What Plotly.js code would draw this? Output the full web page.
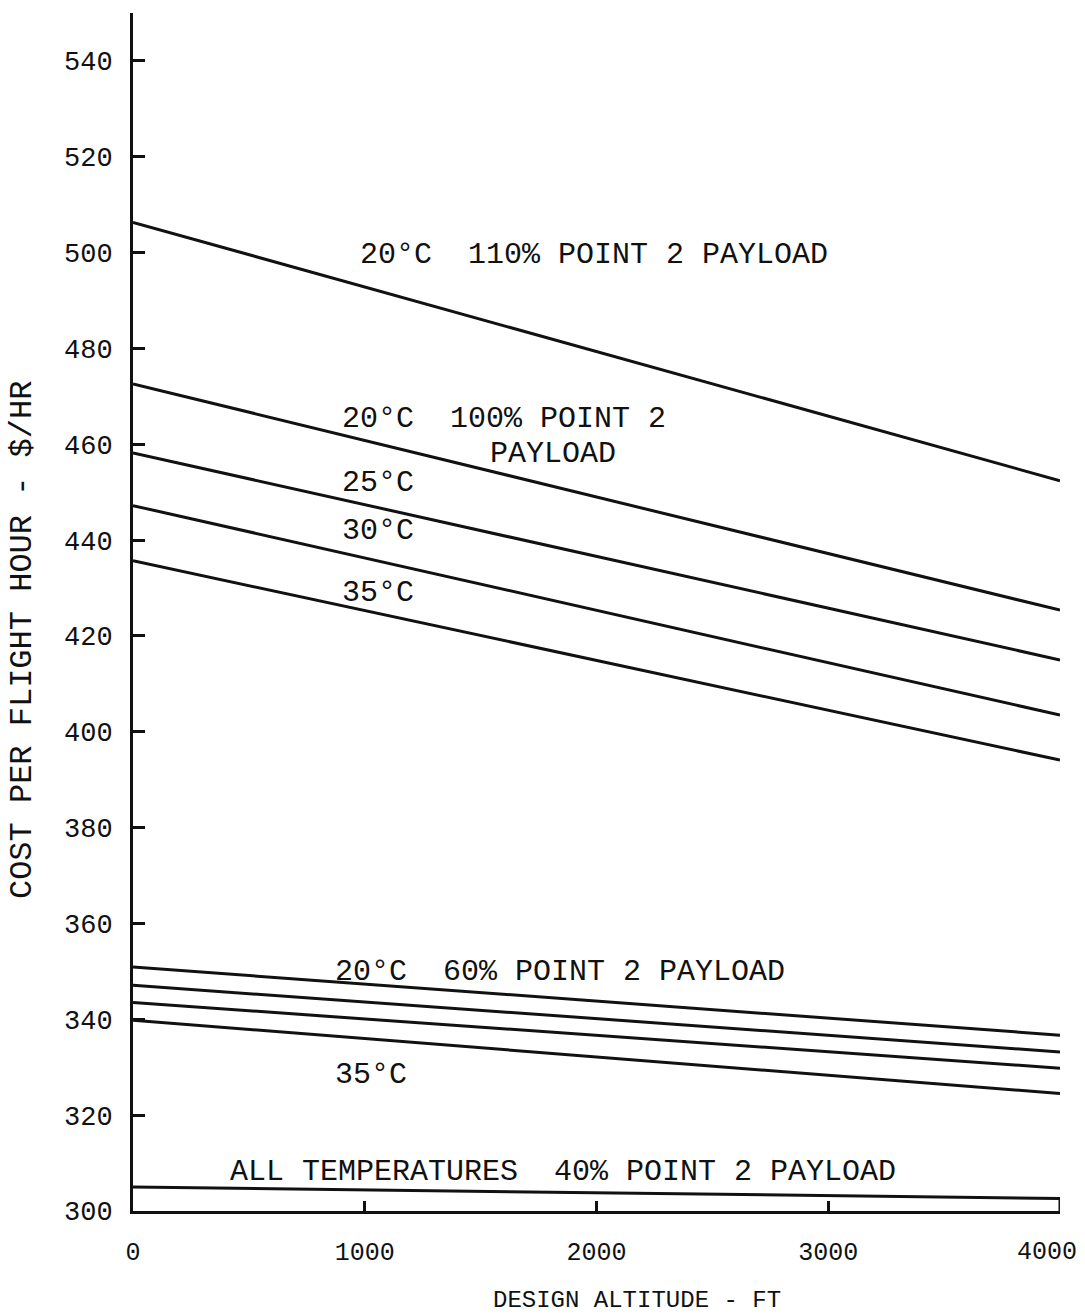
<!DOCTYPE html>
<html>
<head>
<meta charset="utf-8">
<script src="https://cdn.plot.ly/plotly-3.0.1.min.js"></script>
<style>html,body{margin:0;padding:0;background:#fff}#chart{width:1085px;height:1315px}</style>
</head>
<body>
<div id="chart"></div>
<script>
// Design altitude (ft)
var altitude = [0, 4000];
// Cost per flight hour ($/HR)
var p110_20C = [506.3, 452.4];
var p100_20C = [472.6, 425.4];
var p100_25C = [458.2, 415.0];
var p100_30C = [447.2, 403.5];
var p100_35C = [435.7, 394.1];
var p60_20C = [350.9, 336.7];
var p60_25C = [347.1, 333.2];
var p60_30C = [343.5, 329.8];
var p60_35C = [339.8, 324.5];
var altitude40 = [0, 4000, 4000];
var p40_all = [305.0, 302.6, 300.0];

var yTicks = [300, 320, 340, 360, 380, 400, 420, 440, 460, 480, 500, 520, 540];
var xTicks = [0, 1000, 2000, 3000, 4000];
var xTickText = ['0', '1000', '2000', '3000', ''];
var lastXTick = '4000';

var xTitle = 'DESIGN ALTITUDE - FT';
var yTitle = 'COST PER FLIGHT HOUR - $/HR';

var labels = [
  {text: '20°C\u00a0\u00a0110% POINT 2 PAYLOAD', x: 973, y: 499.6},
  {text: '20°C\u00a0\u00a0100% POINT 2', x: 895, y: 465.3},
  {text: 'PAYLOAD', x: 1530, y: 457.9},
  {text: '25°C', x: 895, y: 452.0},
  {text: '30°C', x: 895, y: 442.0},
  {text: '35°C', x: 895, y: 428.9},
  {text: '20°C\u00a0\u00a060% POINT 2 PAYLOAD', x: 865, y: 349.8},
  {text: '35°C', x: 865, y: 328.4},
  {text: 'ALL TEMPERATURES\u00a0\u00a040% POINT 2 PAYLOAD', x: 412, y: 308.1}
];

var FONT = '"Liberation Mono", "Courier New", monospace';
var INK = '#111';

function line(x, y, name) {
  return {x: x, y: y, name: name, type: 'scatter', mode: 'lines',
          line: {color: INK, width: 3}, hoverinfo: 'skip'};
}

var traces = [
  line(altitude, p110_20C, '20°C 110%'),
  line(altitude, p100_20C, '20°C 100%'),
  line(altitude, p100_25C, '25°C 100%'),
  line(altitude, p100_30C, '30°C 100%'),
  line(altitude, p100_35C, '35°C 100%'),
  line(altitude, p60_20C, '20°C 60%'),
  line(altitude, p60_25C, '25°C 60%'),
  line(altitude, p60_30C, '30°C 60%'),
  line(altitude, p60_35C, '35°C 60%'),
  line(altitude40, p40_all, 'All 40%')
];

var annotations = labels.map(function (d) {
  return {text: d.text, x: d.x, y: d.y, xref: 'x', yref: 'y',
          xanchor: 'left', yanchor: 'middle', showarrow: false,
          font: {family: FONT, size: 30, color: INK}};
});
// last x tick label, kept inside the page edge
annotations.push({text: lastXTick, x: 4000, y: -0.0345, xref: 'x', yref: 'paper',
  xanchor: 'right', yanchor: 'middle', xshift: 19, showarrow: false,
  font: {family: FONT, size: 25, color: INK}});
// axis titles
annotations.push({text: xTitle, x: 0.5437, y: -0.0743, xref: 'paper', yref: 'paper',
  xanchor: 'center', yanchor: 'middle', showarrow: false,
  font: {family: FONT, size: 24, color: INK}});
annotations.push({text: yTitle, x: -0.1197, y: 0.4766, xref: 'paper', yref: 'paper',
  xanchor: 'center', yanchor: 'middle', textangle: -90, showarrow: false,
  font: {family: FONT, size: 32, color: INK}});

var layout = {
  width: 1085, height: 1315,
  margin: {l: 133, r: 25, t: 13, b: 104},
  paper_bgcolor: '#fff', plot_bgcolor: '#fff',
  showlegend: false,
  font: {family: FONT, color: INK},
  xaxis: {
    range: [0, 4000], tickvals: xTicks, ticktext: xTickText,
    ticks: 'inside', ticklen: 10, tickwidth: 3, tickcolor: INK,
    showline: true, linewidth: 3, linecolor: INK,
    showgrid: false, zeroline: false,
    tickfont: {family: FONT, size: 25, color: INK},
    ticklabelstandoff: 16
  },
  yaxis: {
    range: [300, 550], tickvals: yTicks, ticktext: yTicks.map(String),
    ticks: 'inside', ticklen: 12, tickwidth: 3, tickcolor: INK,
    showline: true, linewidth: 3, linecolor: INK,
    showgrid: false, zeroline: false,
    tickfont: {family: FONT, size: 27, color: INK},
    ticklabelstandoff: 12
  },
  annotations: annotations
};

Plotly.newPlot('chart', traces, layout, {staticPlot: true, displayModeBar: false});
</script>
</body>
</html>
